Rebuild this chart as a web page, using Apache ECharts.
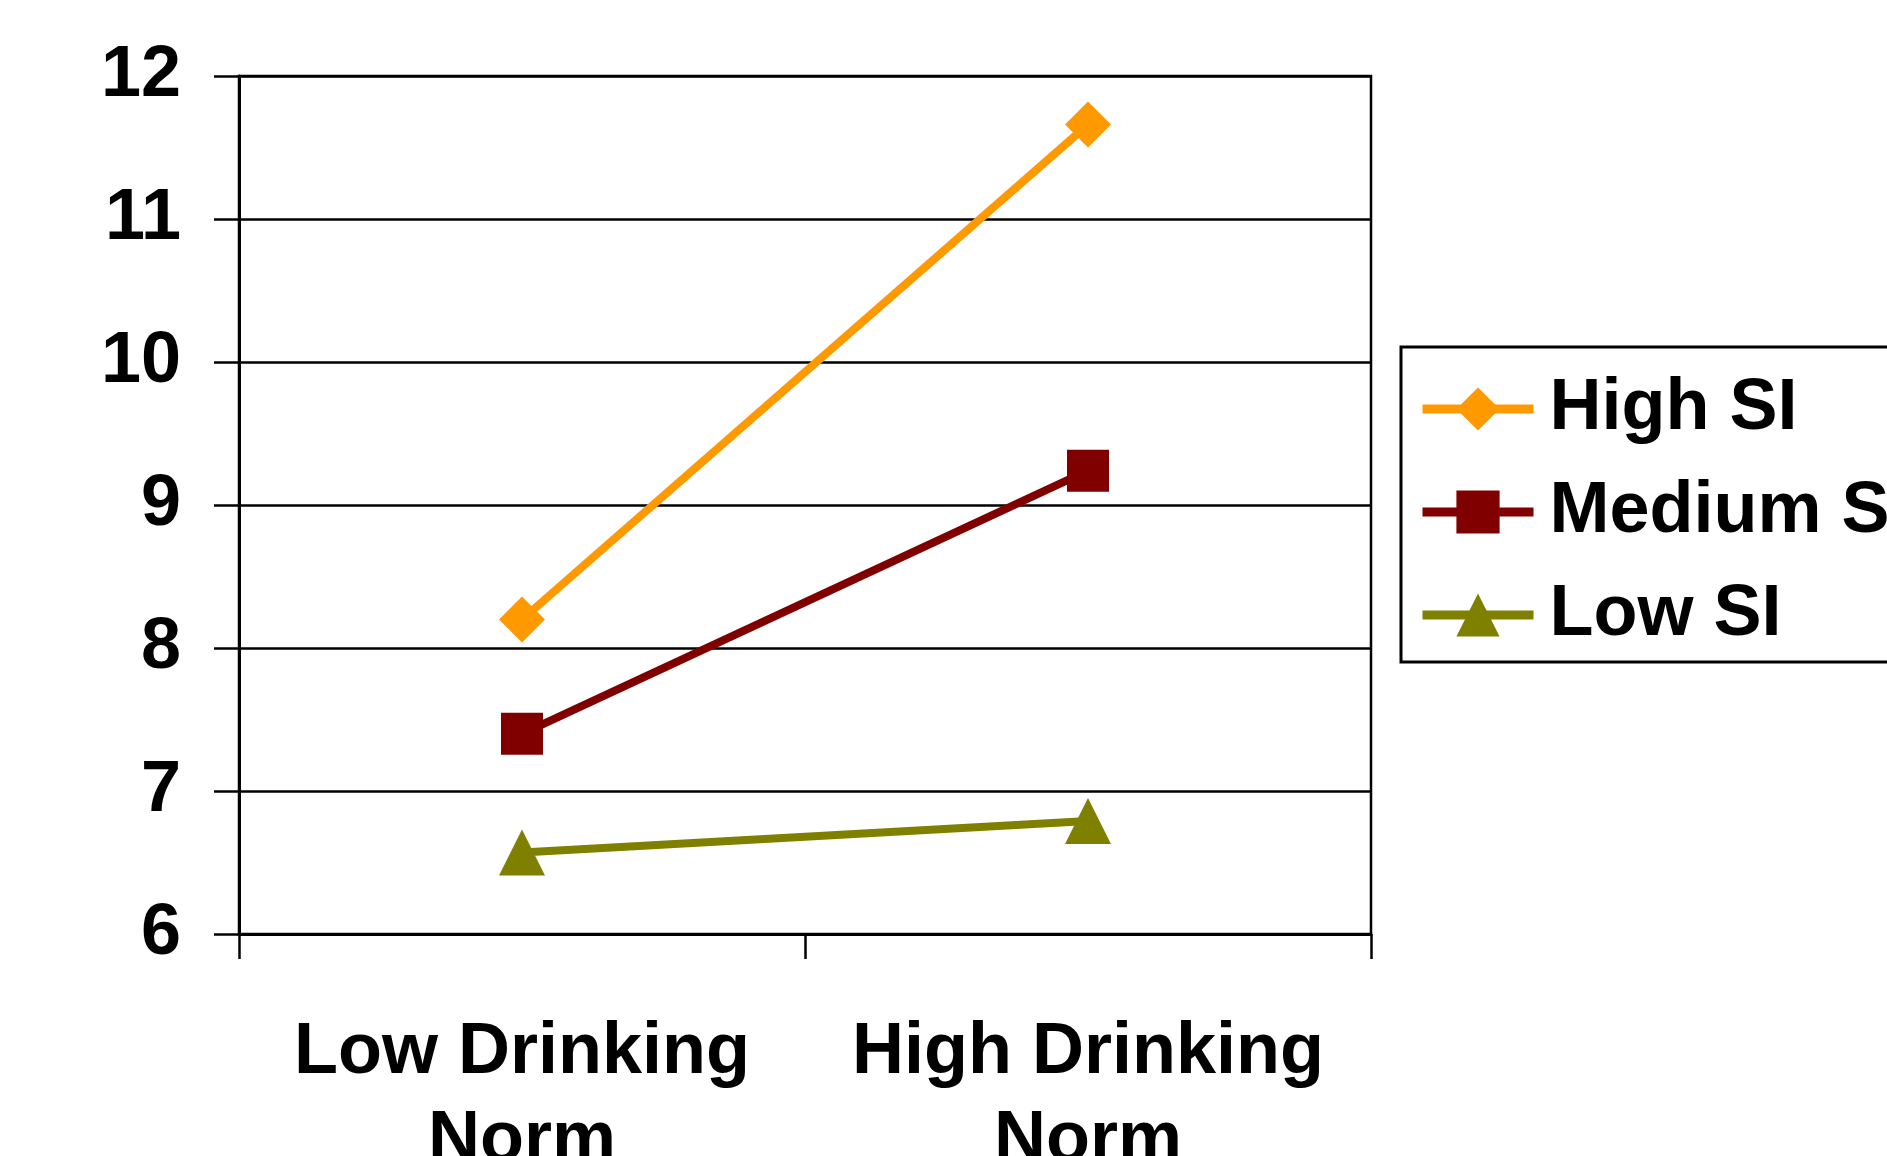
<!DOCTYPE html>
<html>
<head>
<meta charset="utf-8">
<script src="https://cdn.jsdelivr.net/npm/echarts@6/dist/echarts.min.js"></script>
<style>
html,body{margin:0;padding:0;background:#fff;}
#chart{width:1887px;height:1156px;}
</style>
</head>
<body>
<div id="chart"></div>
<script>
const categories = ['Low Drinking\nNorm', 'High Drinking\nNorm'];
const seriesNames = ['High SI', 'Medium SI', 'Low SI'];
const highSI = [8.20, 11.66];
const mediumSI = [7.40, 9.24];
const lowSI = [6.57, 6.79];
const yTicks = [6, 7, 8, 9, 10, 11, 12];

const FONT = '"Liberation Sans", Arial, sans-serif';
const chart = echarts.init(document.getElementById('chart'), null, {renderer: 'canvas'});

function mk(name, data, color, symbol, size) {
  return {
    name: name, type: 'line', data: data,
    symbol: symbol, symbolSize: size,
    itemStyle: {color: color},
    lineStyle: {color: color, width: 8},
    animation: false
  };
}

chart.setOption({
  animation: false,
  backgroundColor: '#ffffff',
  grid: {
    left: 239, right: 516, top: 76, bottom: 222,
    containLabel: false,
    outerBoundsMode: 'none',
    show: true, borderColor: '#000', borderWidth: 2.5, backgroundColor: 'transparent'
  },
  legend: {
    left: 1401, top: 347,
    orient: 'vertical',
    padding: [26, 40, 11, 17],
    itemWidth: 111, itemHeight: 54, itemGap: 31,
    borderColor: '#000', borderWidth: 3,
    backgroundColor: '#fff',
    lineStyle: {width: 9},
    textStyle: {fontFamily: FONT, fontSize: 72, fontWeight: 'bold', color: '#000', lineHeight: 54, padding: [0, 0, 0, 11]},
    data: seriesNames
  },
  xAxis: {
    type: 'category',
    data: categories,
    boundaryGap: true,
    axisLine: {lineStyle: {color: '#000', width: 3}},
    axisTick: {show: true, length: 25, lineStyle: {color: '#000', width: 2.5}},
    axisLabel: {
      fontFamily: FONT, fontSize: 72, fontWeight: 'bold', color: '#000',
      margin: 75, lineHeight: 88, interval: 0
    },
    splitLine: {show: false}
  },
  yAxis: {
    type: 'value',
    min: yTicks[0], max: yTicks[yTicks.length - 1], interval: 1,
    axisLine: {show: true, lineStyle: {color: '#000', width: 3}},
    axisTick: {show: true, length: 25, lineStyle: {color: '#000', width: 2.5}},
    axisLabel: {fontFamily: FONT, fontSize: 72, fontWeight: 'bold', color: '#000', margin: 58, padding: [12, 0, 0, 0]},
    splitLine: {show: true, lineStyle: {color: '#000', width: 2.5}}
  },
  series: [
    mk(seriesNames[0], highSI, '#FF9900', 'diamond', 46),
    mk(seriesNames[1], mediumSI, '#800000', 'rect', 42),
    mk(seriesNames[2], lowSI, '#808000', 'triangle', 46)
  ]
});
</script>
</body>
</html>
